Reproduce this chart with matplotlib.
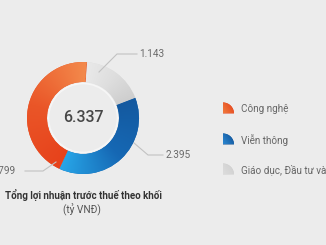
import numpy as np
import matplotlib
matplotlib.use('Agg')
import matplotlib.pyplot as plt
from matplotlib.patches import Wedge, Circle
from matplotlib.colors import LinearSegmentedColormap

# ---- data ----
categories = ['Giáo dục, Đầu tư và Khác', 'Viễn thông', 'Công nghệ']
values = [1143, 2395, 2799]
value_labels = ['1.143', '2.395', '2.799']
legend_order = ['Công nghệ', 'Viễn thông', 'Giáo dục, Đầu tư và Khác']
title = 'Tổng lợi nhuận trước thuế theo khối'
subtitle = '(tỷ VNĐ)'

# ---- style ----
BG = '#ececec'
FONT = ['Roboto', 'DejaVu Sans']
plt.rcParams['font.family'] = FONT
grad = {
    'Giáo dục, Đầu tư và Khác': ['#e9e9e9', '#dedede', '#cecece'],
    'Viễn thông': ['#14599f', '#1668b4', '#28a6e8'],
    'Công nghệ': ['#e7421b', '#ea5628', '#f38a4c'],
}
icon_grad = {
    'Công nghệ': ['#f07a3c', '#e4401a'],
    'Viễn thông': ['#2a86d0', '#0f4f94'],
    'Giáo dục, Đầu tư và Khác': ['#dcdcdc', '#cfcfcf'],
}

W, H = 326, 245
fig = plt.figure(figsize=(W / 100, H / 100), dpi=100)
fig.patch.set_facecolor(BG)
ax = fig.add_axes([0, 0, 1, 1])
ax.set_facecolor(BG)

cx, cy = 83, 127
R, width = 56, 20
start = 86
wedges, _ = ax.pie(values, radius=R, center=(cx, cy), startangle=start,
                   counterclock=False, frame=True,
                   wedgeprops=dict(width=width, linewidth=0))

# angular gradient fill for each wedge
ys, xs = np.mgrid[0:H * 2, 0:W * 2] / 2.0 + 0.25
ang = np.degrees(np.arctan2(ys - cy, xs - cx))
phi = ((start - ang) % 360) / 360.0
cum = np.concatenate([[0], np.cumsum(values)]) / float(sum(values))
for i, w in enumerate(wedges):
    s, e = cum[i], cum[i + 1]
    t = np.clip((phi - s) / (e - s), 0, 1)
    cmap = LinearSegmentedColormap.from_list('g%d' % i, grad[categories[i]])
    img = cmap(t)
    w.set_facecolor(grad[categories[i]][1])
    im = ax.imshow(img, extent=(0, W, 0, H), origin='lower', zorder=2,
                   interpolation='bilinear')
    im.set_clip_path(w)

ax.add_patch(Circle((cx, cy), R - width - 1.5, fill=False, ec='#f6f6f6', lw=1.2, zorder=3))

# center total
total = sum(values)
total_txt = f'{total:,}'.replace(',', '.')
ax.text(cx, cy, total_txt, ha='center', va='center', fontsize=11.5,
        fontweight='medium', color='#474747', zorder=5)

# value labels with leader lines
lab_layout = {
    '1.143': dict(pts=[(99, 173), (117, 191), (137, 191)], txt=(139, 191), ha='left'),
    '2.395': dict(pts=[(134, 102), (148, 90), (163, 90)], txt=(166, 90), ha='left'),
    '2.799': dict(pts=[(56, 83), (43, 74), (25, 74)], txt=(16, 74), ha='right'),
}
for lab in value_labels:
    L = lab_layout[lab]
    px, py = zip(*L['pts'])
    ax.plot(px, py, color='#c2c2c2', lw=0.8, zorder=4)
    ax.text(L['txt'][0], L['txt'][1], lab, ha=L['ha'], va='center',
            fontsize=7.2, color='#6a6a6a', zorder=5)

# title
ax.text(83.5, 50, title, ha='center', va='center', fontsize=7,
        fontweight='bold', color='#333333')
ax.text(82, 35, subtitle, ha='center', va='center', fontsize=7.3,
        color='#555555')

# legend
leg_y = {'Công nghệ': 136, 'Viễn thông': 105, 'Giáo dục, Đầu tư và Khác': 75}
for name in legend_order:
    y = leg_y[name]
    wd = Wedge((223, y - 4.5), 11, 0, 90, lw=0, facecolor=icon_grad[name][1])
    ax.add_patch(wd)
    gy, gx = np.mgrid[0:20, 0:20] / 19.0
    tt = np.clip(gx * 0.6 + (1 - gy) * 0.4, 0, 1)
    cm = LinearSegmentedColormap.from_list('i' + name, icon_grad[name])
    im = ax.imshow(cm(tt), extent=(223, 234, y - 4.5, y + 6.5), origin='upper',
                   zorder=3, interpolation='bilinear')
    im.set_clip_path(wd)
    ax.text(241, y, name, ha='left', va='center', fontsize=7.1, color='#666666')

ax.set_xlim(0, W)
ax.set_ylim(0, H)
ax.set_aspect('auto')
ax.axis('off')

fig.savefig('out.png', dpi=100, facecolor=BG)
